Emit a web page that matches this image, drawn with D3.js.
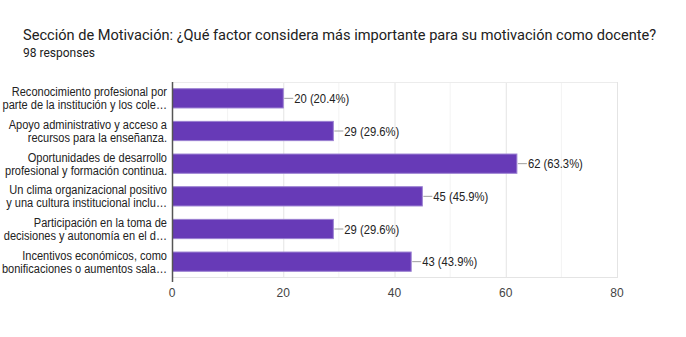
<!DOCTYPE html>
<html>
<head>
<meta charset="utf-8">
<script src="https://cdn.jsdelivr.net/npm/d3@7"></script>
<style>
  body { margin: 0; background: #fff; font-family: Roboto, Arial, sans-serif; }
  .title { font-size: 16px; fill: #212121; font-family: Roboto, sans-serif; }
  .subtitle { font-size: 12px; fill: #212121; font-family: Roboto, sans-serif; }
  .cat-label { font-size: 12.5px; fill: #222; font-family: Arial, "Liberation Sans", sans-serif; }
  .val-label { font-size: 12.5px; fill: #222; font-family: Arial, "Liberation Sans", sans-serif; }
  .tick-label { font-size: 12px; fill: #444; font-family: Arial, "Liberation Sans", sans-serif; }
</style>
</head>
<body>
<div id="chart"></div>
<script>
// Chart data
const categories = [
  ["Reconocimiento profesional por", "parte de la institución y los cole…"],
  ["Apoyo administrativo y acceso a", "recursos para la enseñanza."],
  ["Oportunidades de desarrollo", "profesional y formación continua."],
  ["Un clima organizacional positivo", "y una cultura institucional inclu…"],
  ["Participación en la toma de", "decisiones y autonomía en el d…"],
  ["Incentivos económicos, como", "bonificaciones o aumentos sala…"]
];
const counts = [20, 29, 62, 45, 29, 43];
const percents = ["20.4%", "29.6%", "63.3%", "45.9%", "29.6%", "43.9%"];
const xTicks = [0, 20, 40, 60, 80];
const minorTicks = [10, 30, 50, 70];

const width = 686, height = 337;
const margin = { top: 82, left: 172, right: 69, bottom: 59 };
const innerW = width - margin.left - margin.right;
const innerH = height - margin.top - margin.bottom;

// the reference text is a little narrower than the local fonts: squeeze it
function squeeze(nodes, ratio) {
  nodes.forEach(n => {
    const w = n.getComputedTextLength();
    d3.select(n).attr("textLength", w * ratio).attr("lengthAdjust", "spacingAndGlyphs");
  });
}

const svg = d3.select("#chart").append("svg")
  .attr("width", width).attr("height", height);

const title = svg.append("text").attr("class", "title").attr("x", 23).attr("y", 40)
  .text("Sección de Motivación: ¿Qué factor considera más importante para su motivación como docente?");
// size the title so it spans the same width as in the reference
title.style("font-size", (16 * 634 / title.node().getComputedTextLength()) + "px");
svg.append("text").attr("class", "subtitle").attr("x", 23).attr("y", 57)
  .text("98 responses");

const g = svg.append("g").attr("transform", `translate(${margin.left},${margin.top})`);

const x = d3.scaleLinear().domain([0, 80]).range([0, innerW]);
const y = d3.scaleBand().domain(d3.range(categories.length)).range([0, innerH]).paddingInner(0.38).paddingOuter(0.19);

// Grid lines
g.selectAll("line.minor").data(minorTicks).join("line")
  .attr("x1", d => x(d)).attr("x2", d => x(d))
  .attr("y1", 0).attr("y2", innerH)
  .attr("stroke", "#f3f3f3").attr("stroke-width", 1);
g.selectAll("line.major").data(xTicks.slice(1)).join("line")
  .attr("x1", d => x(d) + 0.5).attr("x2", d => x(d) + 0.5)
  .attr("y1", 0).attr("y2", innerH)
  .attr("stroke", "#e4e4e4").attr("stroke-width", 1);
g.append("line").attr("x1", 0).attr("x2", innerW).attr("y1", 0.5).attr("y2", 0.5)
  .attr("stroke", "#ececec");
g.append("line").attr("x1", 0).attr("x2", innerW).attr("y1", innerH - 0.5).attr("y2", innerH - 0.5)
  .attr("stroke", "#e4e4e4");

// Bars
g.selectAll("rect.bar").data(counts).join("rect")
  .attr("class", "bar")
  .attr("x", 0.5)
  .attr("y", (d, i) => y(i) + 0.5)
  .attr("width", d => x(d) - 0.5)
  .attr("height", y.bandwidth() - 1)
  .attr("fill", "#673ab7")
  .attr("stroke", "#9a7fd1")
  .attr("stroke-width", 1);

// Value connectors and labels
g.selectAll("line.conn").data(counts).join("line")
  .attr("x1", d => x(d) + 1).attr("x2", d => x(d) + 10)
  .attr("y1", (d, i) => y(i) + y.bandwidth() / 2).attr("y2", (d, i) => y(i) + y.bandwidth() / 2)
  .attr("stroke", "#9e9e9e").attr("stroke-width", 1);
const vals = g.selectAll("text.val-label").data(counts).join("text")
  .attr("class", "val-label")
  .attr("x", d => x(d) + 11)
  .attr("y", (d, i) => y(i) + y.bandwidth() / 2 + 4.5)
  .text((d, i) => `${d} (${percents[i]})`);
squeeze(vals.nodes(), 55 / vals.nodes()[3].getComputedTextLength());

// Axis line
g.append("line").attr("x1", 0.5).attr("x2", 0.5).attr("y1", 0).attr("y2", innerH + 4)
  .attr("stroke", "#555").attr("stroke-width", 1.5);

// Category labels
const tspans = [];
categories.forEach((lines, i) => {
  const cy = y(i) + y.bandwidth() / 2;
  const t = g.append("text").attr("class", "cat-label").attr("text-anchor", "end");
  lines.forEach((ln, j) => {
    tspans.push(t.append("tspan").attr("x", -5).attr("y", cy - 2 + j * 13).text(ln).node());
  });
});
// widest line in the reference spans 162px
squeeze(tspans, 162 / tspans[5].getComputedTextLength());

// X tick labels
g.selectAll("text.tick-label").data(xTicks).join("text")
  .attr("class", "tick-label")
  .attr("text-anchor", "middle")
  .attr("x", d => x(d))
  .attr("y", innerH + 19)
  .text(d => d);
</script>
</body>
</html>
